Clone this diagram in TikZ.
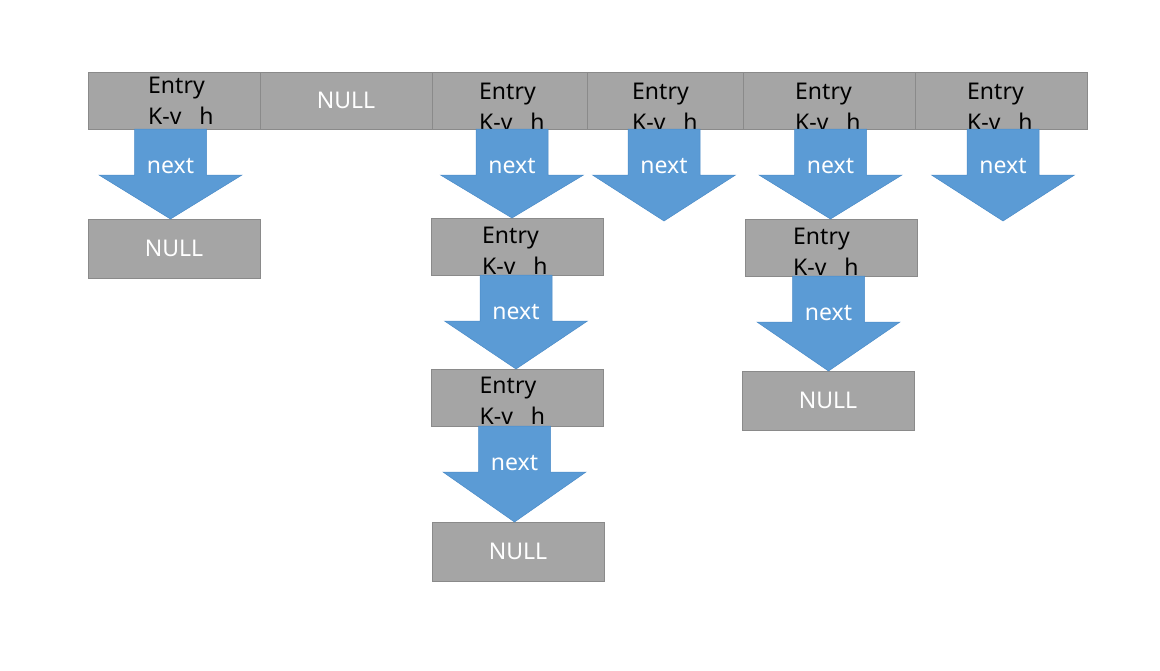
\documentclass[tikz,border=0pt]{standalone}
\usepackage{fontspec}
\setmainfont{Noto Sans}
\usetikzlibrary{positioning,calc}
\definecolor{boxgray}{HTML}{A5A5A5}
\definecolor{boxline}{HTML}{8A8A8A}
\definecolor{arrowblue}{HTML}{5B9BD5}
\definecolor{arrowline}{HTML}{4A8BC8}
\tikzset{
  cell/.style={draw=boxline, fill=boxgray, line width=0.6pt, minimum width=172pt,
    minimum height=57pt, inner sep=0pt, outer sep=0pt, text=white,
    font=\fontsize{23pt}{30pt}\selectfont},
  entry/.style={inner sep=0pt, align=left, anchor=north west,
    font=\fontsize{23pt}{31pt}\selectfont},
  blockarrow/.style={fill=arrowblue, draw=arrowline, line width=0.5pt},
  nextlabel/.style={anchor=base, inner sep=0pt, text=white,
    font=\fontsize{23pt}{30pt}\selectfont}
}
\newcommand{\nextarrow}[4][0]{%
  \path[blockarrow] let \p1=($(#3)+(#1,0)$), \p2=(#4) in
    (\x1-36pt,\y1) -- (\x1+36pt,\y1) -- (\x1+36pt,\y1-46pt)
    -- (\x1+71.5pt,\y1-46pt) -- (\x1,\y2) -- (\x1-71.5pt,\y1-46pt)
    -- (\x1-36pt,\y1-46pt) -- cycle
    (\x1,\y1-44pt) node[nextlabel] (#2) {next};
}
\begin{document}
\begin{tikzpicture}[x=1pt,y=-1pt]
  \useasboundingbox[fill=white] (0,0) rectangle (1160,670);
  % table
  \node[cell] (c1) at (174,100.5) {};
  \node[cell, right=0pt of c1] (c2) {NULL};
  \node[cell, minimum width=155pt, right=0pt of c2] (c3) {};
  \node[cell, minimum width=156pt, right=0pt of c3] (c4) {};
  \node[cell, right=0pt of c4] (c5) {};
  \node[cell, right=0pt of c5] (c6) {};
  % chained entries
  \node[cell, minimum height=59pt] (n1) at (174,248.5) {NULL};
  \node[cell] (e3a) at (517,246.5) {};
  \node[cell] (e5a) at (831,247.5) {};
  \node[cell] (e3b) at (517.5,397.5) {};
  \node[cell, minimum height=59pt] (n5) at (828,400.5) {NULL};
  \node[cell, minimum height=59pt] (n3) at (518,551.5) {NULL};
  % entry texts
  \node[entry, below right=5pt and 60pt of c1.north west] (c1t) {Entry\\K-v~~~h};
  \node[entry, below right=11pt and 47pt of c3.north west] (c3t) {Entry\\K-v~~~h};
  \node[entry, below right=11pt and 45pt of c4.north west] (c4t) {Entry\\K-v~~~h};
  \node[entry, below right=11pt and 52pt of c5.north west] (c5t) {Entry\\K-v~~~h};
  \node[entry, below right=11pt and 52pt of c6.north west] (c6t) {Entry\\K-v~~~h};
  \node[entry, below right=9pt and 51pt of e3a.north west] (e3at) {Entry\\K-v~~~h};
  \node[entry, below right=9pt and 48pt of e5a.north west] (e5at) {Entry\\K-v~~~h};
  \node[entry, below right=8pt and 48pt of e3b.north west] (e3bt) {Entry\\K-v~~~h};
  % next pointers
  \coordinate (t4) at (664,221);
  \coordinate (t6) at (1003,221);
  \nextarrow[-3.5]{a1}{c1.south}{n1.north}
  \nextarrow[2.5]{a3}{c3.south}{e3a.north}
  \nextarrow[-1]{a4}{c4.south}{t4}
  \nextarrow[1.5]{a5}{c5.south}{e5a.north}
  \nextarrow[2]{a6}{c6.south}{t6}
  \nextarrow[-1]{a3b}{e3a.south}{e3b.north}
  \nextarrow[-3]{a3c}{e3b.south}{n3.north}
  \nextarrow[-2.5]{a5b}{e5a.south}{n5.north}
\end{tikzpicture}
\end{document}
